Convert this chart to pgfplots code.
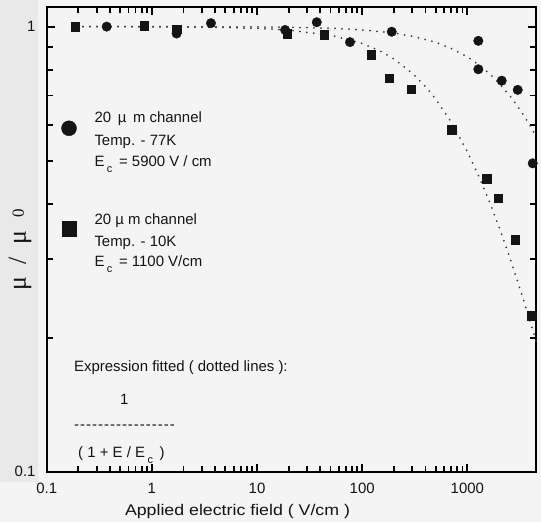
\documentclass[border=0pt]{standalone}
\usepackage{fontspec}
\setmainfont{Liberation Sans}
\newfontfamily\symfont{Liberation Serif}
\newfontfamily\widefont{Liberation Sans}[FakeStretch=1.15]
\usepackage{pgfplots}
\usepackage{pgfplotstable}
\pgfplotsset{compat=1.18}
\definecolor{inkc}{rgb}{0.08,0.08,0.08}
\definecolor{paper}{rgb}{0.957,0.957,0.957}
\definecolor{margin}{rgb}{0.914,0.914,0.914}
\definecolor{dotc}{rgb}{0.24,0.24,0.24}
\newcommand{\fs}{\fontsize{15}{17}\selectfont}
\newcommand{\sub}[1]{\raisebox{-6bp}{\fontsize{11}{11}\selectfont #1}}
\newcommand{\hy}{-\kern1bp}

\pgfplotstableread{
x y
0.372 1.000
1.72 0.965
3.65 1.018
18.5 0.983
37.0 1.023
76.6 0.923
191 0.974
1272 0.929
1272 0.802
2123 0.756
3014 0.721
4188 0.493
}\circlesdata

\pgfplotstableread{
x y
0.186 1.000
0.842 1.004
1.72 0.988
19.4 0.963
43.4 0.958
121.4 0.864
180 0.766
291 0.723
711 0.586
1530 0.455
1971 0.412
2842 0.332
4098 0.224
}\squaresdata

% dotted fitted curve, 10 K (E_c = 1100 V/cm)
\pgfplotstableread{
x y
0.19 0.9998
0.5 0.9995
1 0.9991
2 0.9982
5 0.9955
10 0.9910
20 0.9821
50 0.9565
100 0.9167
150 0.8800
200 0.8462
300 0.7857
400 0.7333
500 0.6875
700 0.6111
1000 0.5238
1300 0.4583
1600 0.4074
2000 0.3548
2500 0.3056
3000 0.2683
3500 0.2391
4000 0.2157
4500 0.1964
}\fitten

% dotted fitted curve, 77 K (E_c = 5900 V/cm)
\pgfplotstableread{
x y
0.19 1.0000
1 0.9998
10 0.9983
20 0.9966
50 0.9916
100 0.9833
200 0.9672
300 0.9516
500 0.9219
700 0.8939
1000 0.8551
1300 0.8194
1600 0.7867
2000 0.7468
2500 0.7024
3000 0.6629
3500 0.6277
4000 0.5960
4500 0.5673
}\fitseventyseven

\begin{document}
\begin{tikzpicture}[x=1bp,y=1bp]
\fill[paper] (0,0) rectangle (541,522);
\fill[margin] (0,40) rectangle (38,522);
\begin{axis}[
  at={(46.7bp,50.3bp)}, anchor=south west,
  scale only axis, width=489.3bp, height=464.2bp,
  xmode=log, ymode=log,
  xmin=0.1, xmax=4500, ymin=0.1, ymax=1.104,
  axis line style={draw=black, line width=2bp},
  tick style={draw=black, line width=1.8bp},
  major tick length=8bp, minor tick length=6bp,
  tick align=inside,
  xtick={0.1,1,10,100,1000}, xticklabels={0.1,1,10,100,1000},
  ytick={0.1,1}, yticklabels={0.1,1},
  ticklabel style={font=\fs, text=inkc, inner sep=0pt},
  xticklabel style={anchor=north, yshift=-11bp},
  yticklabel style={anchor=east, xshift=-11bp},
  xlabel={Applied electric field ( V/cm )},
  xlabel style={at={(axis description cs:0.39,0)}, anchor=center, yshift=-40bp, font=\widefont\fontsize{15.5}{18}\selectfont, text=inkc},
  ylabel={\symfont\fontsize{26}{28}\selectfont μ\enspace/\enspace μ\enspace\raisebox{2bp}{\fontsize{17}{17}\selectfont 0}},
  ylabel style={at={(axis description cs:-0.0546,0.478)}, anchor=center, text=inkc},
  clip=false,
]
\addplot[dotc, line width=2bp, line cap=round, dash pattern=on 0bp off 7bp] table {\fitten};
\addplot[dotc, line width=2bp, line cap=round, dash pattern=on 0bp off 7bp] table {\fitseventyseven};
\addplot[only marks, mark=*, mark size=4.75bp, mark options={fill=inkc, draw=inkc}] table {\circlesdata};
\addplot[only marks, mark=square*, mark size=4.25bp, mark options={fill=inkc, draw=inkc}] table {\squaresdata};
% legend symbols
\addplot[only marks, mark=*, mark size=7.5bp, mark options={fill=inkc, draw=inkc}] coordinates {(0.163,0.591)};
\addplot[only marks, mark=square*, mark size=7.25bp, mark options={fill=inkc, draw=inkc}] coordinates {(0.163,0.352)};
\end{axis}
% legend texts
\begin{scope}[every node/.style={anchor=base west, inner sep=0pt, font=\fs, text=inkc}]
\node at (94.3, 522-123) {20 \,µ\, m channel};
\node at (94.3, 522-145.5) {Temp. - 77K};
\node at (94.3, 522-167) {E\,\sub{c}\, = 5900 V / cm};
\node at (94.3, 522-225) {20 µ m channel};
\node at (94.3, 522-246.5) {Temp. - 10K};
\node at (94.3, 522-267) {E\,\sub{c}\, = 1100 V/cm};
% fitted expression
\node at (74, 522-372) {Expression fitted ( dotted lines ):};
\node at (120, 522-404) {1};
\node at (74, 522-429) {\hy\hy\hy\hy\hy\hy\hy\hy\hy\hy\hy\hy\hy\hy\hy\hy\hy};
\node at (78, 522-457) {( 1 +  E / E\,\sub{c}\, )};
\end{scope}
\end{tikzpicture}
\end{document}
